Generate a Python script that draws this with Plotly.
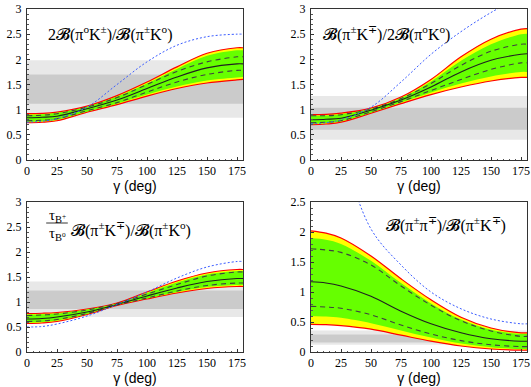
import plotly.graph_objects as go

gamma = [0, 12.5, 25, 50, 75, 100, 125, 150, 175, 180]

# Panel 1: 2B(pi0 K+-)/B(pi+- K0)
p1_red_hi = [0.92, 0.925, 0.95, 1.07, 1.28, 1.55, 1.85, 2.12, 2.23, 2.23]
p1_red_lo = [0.74, 0.75, 0.78, 0.95, 1.10, 1.27, 1.42, 1.53, 1.59, 1.60]
p1_grn_hi = [0.90, 0.91, 0.94, 1.06, 1.26, 1.52, 1.81, 2.07, 2.18, 2.18]
p1_grn_lo = [0.76, 0.77, 0.80, 0.96, 1.12, 1.30, 1.46, 1.58, 1.64, 1.65]
p1_dash_hi = [0.88, 0.89, 0.92, 1.05, 1.24, 1.50, 1.76, 1.95, 2.05, 2.05]
p1_dash_lo = [0.78, 0.79, 0.82, 0.98, 1.14, 1.35, 1.55, 1.70, 1.78, 1.78]
p1_mid = [0.84, 0.85, 0.87, 1.02, 1.19, 1.42, 1.65, 1.83, 1.91, 1.91]
p1_blue = [0.75, 0.77, 0.82, 1.05, 1.50, 1.95, 2.28, 2.45, 2.50, 2.50]
p1_light = [0.84, 1.98]
p1_dark = [1.12, 1.70]

# Panel 2: B(pi+- K-+)/2B(pi0 K0)
p2_red_hi = [0.90, 0.905, 0.93, 1.03, 1.25, 1.60, 2.05, 2.40, 2.60, 2.61]
p2_red_lo = [0.70, 0.715, 0.75, 0.93, 1.12, 1.30, 1.45, 1.57, 1.64, 1.64]
p2_grn_hi = [0.88, 0.885, 0.91, 1.02, 1.23, 1.56, 1.97, 2.30, 2.50, 2.51]
p2_grn_lo = [0.72, 0.735, 0.77, 0.94, 1.14, 1.34, 1.52, 1.66, 1.75, 1.75]
p2_dash_hi = [0.88, 0.88, 0.90, 1.01, 1.22, 1.52, 1.88, 2.16, 2.30, 2.30]
p2_dash_lo = [0.74, 0.75, 0.78, 0.96, 1.16, 1.38, 1.60, 1.80, 1.93, 1.93]
p2_mid = [0.80, 0.81, 0.83, 0.99, 1.19, 1.45, 1.75, 1.98, 2.10, 2.11]
p2_blue = [0.72, 0.74, 0.80, 1.05, 1.55, 2.10, 2.55, 2.93, 3.25, 3.30]
p2_light = [0.40, 1.27]
p2_dark = [0.60, 1.04]

# Panel 3: (tau_B+/tau_B0) B(pi+- K-+)/B(pi+- K0)
p3_red_hi = [0.77, 0.775, 0.79, 0.86, 0.98, 1.20, 1.42, 1.58, 1.65, 1.65]
p3_red_lo = [0.57, 0.58, 0.61, 0.75, 0.93, 1.06, 1.18, 1.27, 1.31, 1.31]
p3_grn_hi = [0.75, 0.755, 0.77, 0.85, 0.97, 1.18, 1.39, 1.55, 1.62, 1.62]
p3_grn_lo = [0.59, 0.60, 0.63, 0.76, 0.94, 1.07, 1.20, 1.30, 1.34, 1.34]
p3_dash_hi = [0.73, 0.74, 0.76, 0.84, 0.97, 1.16, 1.35, 1.52, 1.60, 1.60]
p3_dash_lo = [0.61, 0.62, 0.65, 0.77, 0.94, 1.08, 1.22, 1.33, 1.38, 1.38]
p3_mid = [0.66, 0.67, 0.70, 0.80, 0.95, 1.12, 1.28, 1.41, 1.47, 1.47]
p3_blue = [0.50, 0.51, 0.56, 0.72, 0.95, 1.20, 1.48, 1.70, 1.81, 1.81]
p3_light = [0.70, 1.41]
p3_dark = [0.86, 1.23]

# Panel 4: B(pi+- pi-+)/B(pi+- K-+)
p4_red_hi = [2.02, 1.98, 1.90, 1.60, 1.22, 0.87, 0.58, 0.40, 0.32, 0.32]
p4_red_lo = [0.46, 0.455, 0.44, 0.38, 0.28, 0.18, 0.10, 0.05, 0.03, 0.03]
p4_grn_hi = [1.90, 1.87, 1.80, 1.52, 1.15, 0.81, 0.54, 0.37, 0.30, 0.30]
p4_grn_lo = [0.60, 0.59, 0.57, 0.48, 0.36, 0.24, 0.14, 0.08, 0.05, 0.05]
p4_dash_hi = [1.72, 1.70, 1.66, 1.45, 1.10, 0.78, 0.52, 0.35, 0.26, 0.26]
p4_dash_lo = [0.76, 0.75, 0.73, 0.62, 0.45, 0.30, 0.19, 0.12, 0.09, 0.09]
p4_mid = [1.17, 1.15, 1.10, 0.93, 0.68, 0.47, 0.32, 0.22, 0.18, 0.18]
p4_blue = [4.20, 3.90, 3.35, 2.05, 1.45, 1.00, 0.72, 0.55, 0.47, 0.47]
p4_light = [0.12, 0.36]
p4_dark = [0.16, 0.29]

panels = [
    (p1_red_hi, p1_red_lo, p1_grn_hi, p1_grn_lo, p1_dash_hi, p1_dash_lo, p1_mid, p1_blue, p1_light, p1_dark, 3.0),
    (p2_red_hi, p2_red_lo, p2_grn_hi, p2_grn_lo, p2_dash_hi, p2_dash_lo, p2_mid, p2_blue, p2_light, p2_dark, 3.0),
    (p3_red_hi, p3_red_lo, p3_grn_hi, p3_grn_lo, p3_dash_hi, p3_dash_lo, p3_mid, p3_blue, p3_light, p3_dark, 3.0),
    (p4_red_hi, p4_red_lo, p4_grn_hi, p4_grn_lo, p4_dash_hi, p4_dash_lo, p4_mid, p4_blue, p4_light, p4_dark, 2.5),
]

W, H = 531, 387
xdoms = [[27 / W, 243 / W], [311 / W, 527 / W]]
ydoms = [[(H - 160) / H, (H - 9) / H], [(H - 352) / H, (H - 202) / H]]

fig = go.Figure()
serif = "Liberation Serif"
sans = "Liberation Sans"

for i, (rh, rl, gh, gl, dh, dl, mid, blue, light, dark, ymax) in enumerate(panels):
    n = i + 1
    xa = "x" if n == 1 else f"x{n}"
    ya = "y" if n == 1 else f"y{n}"
    kw = dict(x=gamma, xaxis=xa, yaxis=ya, mode="lines", showlegend=False, hoverinfo="skip")
    sp = dict(shape="spline", smoothing=1.0)
    fig.add_trace(go.Scatter(y=rl, line=dict(color="#ff0000", width=1.2, **sp), **kw))
    fig.add_trace(go.Scatter(y=rh, fill="tonexty", fillcolor="#ffff00",
                             line=dict(color="#ff0000", width=1.2, **sp), **kw))
    fig.add_trace(go.Scatter(y=gl, line=dict(color="rgba(0,0,0,0)", width=0, **sp), **kw))
    fig.add_trace(go.Scatter(y=gh, fill="tonexty", fillcolor="#66ff00",
                             line=dict(color="rgba(0,0,0,0)", width=0, **sp), **kw))
    fig.add_trace(go.Scatter(y=dh, line=dict(color="#404040", width=1.1, dash="5px,4px", **sp), **kw))
    fig.add_trace(go.Scatter(y=dl, line=dict(color="#404040", width=1.1, dash="5px,4px", **sp), **kw))
    fig.add_trace(go.Scatter(y=mid, line=dict(color="#202020", width=1.1, **sp), **kw))
    fig.add_trace(go.Scatter(y=blue, line=dict(color="#3a5cff", width=1.0, dash="2px,2px", **sp), **kw))

    fig.add_shape(type="rect", xref=xa, yref=ya, x0=0, x1=180, y0=light[0], y1=light[1],
                  fillcolor="#e8e8e8", line_width=0, layer="below")
    fig.add_shape(type="rect", xref=xa, yref=ya, x0=0, x1=180, y0=dark[0], y1=dark[1],
                  fillcolor="#cbcbcb", line_width=0, layer="below")

    xd = xdoms[i % 2]
    yd = ydoms[i // 2]
    axis_common = dict(showline=True, linecolor="#333", linewidth=1, mirror=True,
                       ticks="inside", ticklen=3, tickcolor="#333", showgrid=False,
                       zeroline=False, automargin=False,
                       tickfont=dict(family=serif, size=12, color="black"),
                       minor=dict(ticks="inside", ticklen=1.5, tickcolor="#555"))
    xname = "xaxis" if n == 1 else f"xaxis{n}"
    yname = "yaxis" if n == 1 else f"yaxis{n}"
    fig.update_layout(**{
        xname: dict(domain=xd, range=[0, 180], tickvals=[0, 25, 50, 75, 100, 125, 150, 175],
                    anchor=ya, ticklabelstandoff=0,
                    title=dict(text="γ (deg)", font=dict(family=sans, size=14, color="black"), standoff=1),
                    **axis_common, ),
        yname: dict(domain=yd, range=[0, ymax], dtick=0.5, anchor=xa, ticklabelstandoff=2,
                    **axis_common),
    })
    fig.layout[xname].minor.dtick = 5
    fig.layout[yname].minor.dtick = 0.1

B = "𝓑"
tf = dict(family=serif, size=16, color="black")
fig.add_annotation(xref="x", yref="y", x=16, y=2.52, xanchor="left", yanchor="middle", showarrow=False,
                   text=f"2{B}(π<sup>o</sup>K<sup>±</sup>)/{B}(π<sup>±</sup>K<sup>o</sup>)", font=tf)
fig.add_annotation(xref="x2", yref="y2", x=8, y=2.52, xanchor="left", yanchor="middle", showarrow=False,
                   text=f"{B}(π<sup>±</sup>K<sup>∓</sup>)/2{B}(π<sup>o</sup>K<sup>o</sup>)", font=tf)
fig.add_annotation(xref="x3", yref="y3", x=35, y=2.45, xanchor="left", yanchor="middle", showarrow=False,
                   text=f"{B}(π<sup>±</sup>K<sup>∓</sup>)/{B}(π<sup>±</sup>K<sup>o</sup>)", font=tf)
fig.add_annotation(xref="x3", yref="y3", x=25, y=2.72, xanchor="center", yanchor="middle", showarrow=False,
                   text="τ<sub>B<sup>+</sup></sub>", font=dict(family=serif, size=15, color="black"))
fig.add_annotation(xref="x3", yref="y3", x=25, y=2.36, xanchor="center", yanchor="middle", showarrow=False,
                   text="τ<sub>B<sup>o</sup></sub>", font=dict(family=serif, size=15, color="black"))
fig.add_shape(type="line", xref="x3", yref="y3", x0=16, x1=34, y0=2.58, y1=2.58,
              line=dict(color="black", width=0.8))
fig.add_annotation(xref="x4", yref="y4", x=164, y=2.12, xanchor="right", yanchor="middle", showarrow=False,
                   text=f"{B}(π<sup>±</sup>π<sup>∓</sup>)/{B}(π<sup>±</sup>K<sup>∓</sup>)", font=tf)

fig.update_layout(width=W, height=H, margin=dict(l=0, r=0, t=0, b=0),
                  paper_bgcolor="white", plot_bgcolor="white", showlegend=False)

fig.write_html("out.html", config={"displayModeBar": False},
               post_script="document.body.style.margin='0';document.body.style.overflow='hidden';")
